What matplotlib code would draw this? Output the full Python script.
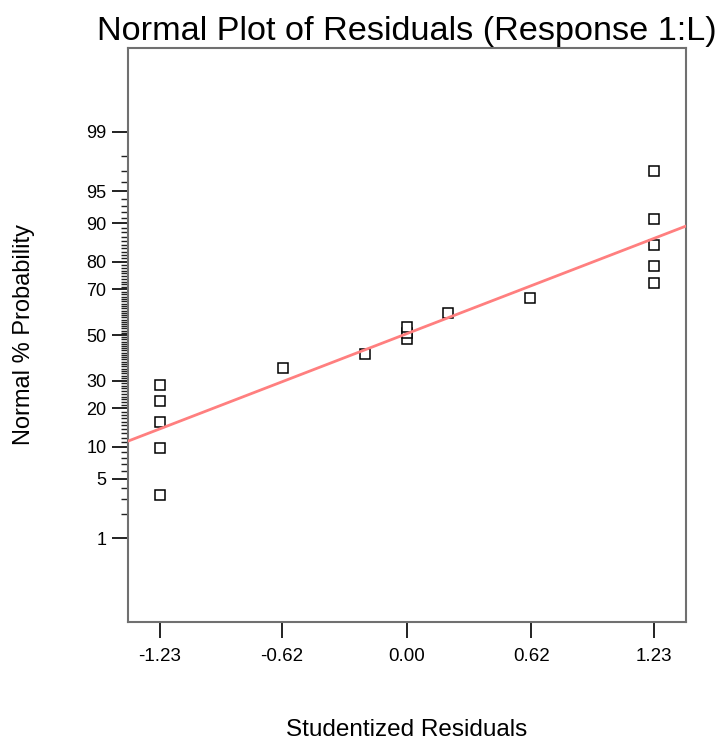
from statistics import NormalDist
import matplotlib
matplotlib.use("Agg")
import matplotlib.pyplot as plt
import numpy as np

plt.rcParams['font.family'] = ['Liberation Sans', 'DejaVu Sans']

# studentized residuals and their normal % probability
resid = [-1.23, -1.23, -1.23, -1.23, -1.23, -0.614, -0.206, 0.00, 0.00, 0.00,
         0.208, 0.614, 1.23, 1.23, 1.23, 1.23, 1.23]
prob = [3.3, 9.7, 16.0, 22.5, 28.5, 35.3, 41.5, 48.0, 50.8, 53.5,
        59.8, 66.4, 72.5, 78.5, 84.9, 90.9, 97.0]

# reference line end points (at the plot edges)
line_x = [-1.387, 1.391]
line_y = [11.2, 89.4]

xticks = [-1.23, -0.62, 0.00, 0.62, 1.23]
yticks = [1, 5, 10, 20, 30, 50, 70, 80, 90, 95, 99]
yminor = [p for p in range(2, 99) if p not in yticks]

nd = NormalDist()


def fwd(p):
    p = np.clip(np.asarray(p, dtype=float) / 100.0, 1e-9, 1 - 1e-9)
    return np.vectorize(nd.inv_cdf)(p)


def inv(z):
    return np.vectorize(nd.cdf)(np.asarray(z, dtype=float)) * 100.0


fig = plt.figure(figsize=(7.16, 7.42), dpi=100)
ax = fig.add_axes([128 / 716, 1 - 622 / 742, 558 / 716, 574 / 742])
ax.set_yscale('function', functions=(fwd, inv))

ax.plot(resid, prob, 's', ms=7, mfc='white', mec='black', mew=1.1, zorder=2)
ax.plot(line_x, line_y, '-', color='#ff7f7f', lw=2, zorder=3)

ax.set_xlim(-1.387, 1.391)
ax.set_ylim(inv(-3.288), inv(3.288))

ax.set_xticks(xticks)
ax.set_xticklabels(['%.2f' % t for t in xticks])
ax.set_yticks(yticks)
ax.set_yticklabels([str(t) for t in yticks])
ax.set_yticks(yminor, minor=True)
ax.xaxis.set_minor_locator(matplotlib.ticker.NullLocator())

ax.tick_params(axis='both', which='major', length=11.5, width=1.4, color='#222222')
ax.tick_params(axis='y', which='minor', length=5, width=1.0, color='#222222')
ax.tick_params(axis='x', labelsize=13.5, pad=7)
ax.tick_params(axis='y', labelsize=13, pad=4)

for s in ax.spines.values():
    s.set_color('#707070')
    s.set_linewidth(1.5)

ax.set_title('Normal Plot of Residuals (Response 1:L)', fontsize=24.7, pad=6)
ax.set_xlabel('Studentized Residuals', fontsize=17.5, va='center')
ax.xaxis.set_label_coords(0.5, (622 - 730) / 574)
ax.set_ylabel('Normal % Probability', fontsize=17, va='center')
ax.yaxis.set_label_coords((24 - 128) / 558, 0.5)

fig.savefig('out.png', dpi=100)
